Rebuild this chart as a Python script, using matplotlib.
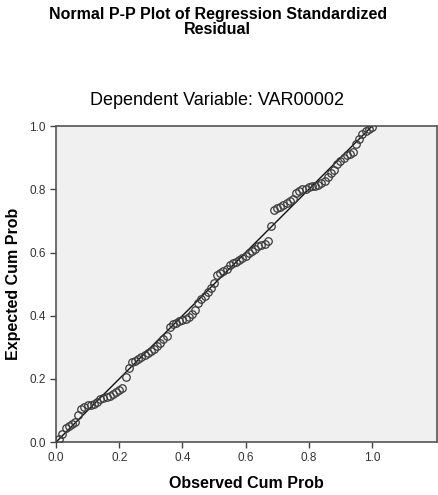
import numpy as np
import matplotlib.pyplot as plt

plt.rcParams['font.family'] = ['Liberation Sans', 'DejaVu Sans']

# observed cumulative probability (rank / n)
observed = [0.01, 0.02, 0.03, 0.04, 0.05, 0.06, 0.07, 0.08, 0.09, 0.10,
            0.11, 0.12, 0.13, 0.14, 0.15, 0.16, 0.17, 0.18, 0.19, 0.20,
            0.21, 0.22, 0.23, 0.24, 0.25, 0.26, 0.27, 0.28, 0.29, 0.30,
            0.31, 0.32, 0.33, 0.34, 0.35, 0.36, 0.37, 0.38, 0.39, 0.40,
            0.41, 0.42, 0.43, 0.44, 0.45, 0.46, 0.47, 0.48, 0.49, 0.50,
            0.51, 0.52, 0.53, 0.54, 0.55, 0.56, 0.57, 0.58, 0.59, 0.60,
            0.61, 0.62, 0.63, 0.64, 0.65, 0.66, 0.67, 0.68, 0.69, 0.70,
            0.71, 0.72, 0.73, 0.74, 0.75, 0.76, 0.77, 0.78, 0.79, 0.80,
            0.81, 0.82, 0.83, 0.84, 0.85, 0.86, 0.87, 0.88, 0.89, 0.90,
            0.91, 0.92, 0.93, 0.94, 0.95, 0.96, 0.97, 0.98, 0.99, 1.00]

# expected cumulative probability
expected = [0.010, 0.025, 0.045, 0.052, 0.058, 0.065, 0.085, 0.105, 0.112, 0.117,
            0.118, 0.122, 0.128, 0.135, 0.140, 0.143, 0.147, 0.152, 0.158, 0.165,
            0.172, 0.205, 0.235, 0.252, 0.258, 0.262, 0.268, 0.275, 0.282, 0.288,
            0.295, 0.305, 0.315, 0.325, 0.335, 0.365, 0.375, 0.378, 0.382, 0.385,
            0.390, 0.395, 0.405, 0.418, 0.440, 0.452, 0.462, 0.475, 0.488, 0.505,
            0.528, 0.535, 0.540, 0.548, 0.560, 0.566, 0.570, 0.575, 0.582, 0.590,
            0.597, 0.605, 0.612, 0.620, 0.625, 0.628, 0.635, 0.683, 0.735, 0.740,
            0.745, 0.752, 0.758, 0.762, 0.770, 0.790, 0.795, 0.800, 0.802, 0.806,
            0.810, 0.812, 0.815, 0.820, 0.828, 0.840, 0.852, 0.862, 0.880, 0.890,
            0.900, 0.908, 0.912, 0.918, 0.945, 0.960, 0.975, 0.985, 0.992, 0.998]

ticks = [0.0, 0.2, 0.4, 0.6, 0.8, 1.0]
tick_labels = ['0.0', '0.2', '0.4', '0.6', '0.8', '1.0']

fig = plt.figure(figsize=(4.38, 4.95), dpi=100)
ax = fig.add_axes([0.128, 0.107, 0.869, 0.638])
ax.set_facecolor('#f0f0f0')

ax.plot([0, 1], [0, 1], color='#111111', lw=1.0, zorder=2)
ax.plot(observed, expected, linestyle='none', marker='o', markersize=5.4,
        markerfacecolor='none', markeredgecolor='#3a3a3a', markeredgewidth=0.9,
        zorder=3)

ax.set_xlim(0, 1.205)
ax.set_ylim(0, 1.0)
ax.set_xticks(ticks)
ax.set_xticklabels(tick_labels)
ax.set_yticks(ticks)
ax.set_yticklabels(tick_labels)
ax.tick_params(direction='out', length=4, width=1, colors='#444444',
               labelsize=8.5, labelcolor='#333333')
for s in ax.spines.values():
    s.set_color('#555555')
    s.set_linewidth(1.2)

ax.set_xlabel('Observed Cum Prob', fontsize=11.5, fontweight='bold', labelpad=8)
ax.set_ylabel('Expected Cum Prob', fontsize=11.5, fontweight='bold', labelpad=6)

fig.text(0.497, 0.985, 'Normal P-P Plot of Regression Standardized\nResidual',
         ha='center', va='top', fontsize=11.5, fontweight='bold',
         linespacing=1.0)
fig.text(0.495, 0.797, 'Dependent Variable: VAR00002', ha='center', va='center',
         fontsize=13)

plt.savefig('out.png', dpi=100)
